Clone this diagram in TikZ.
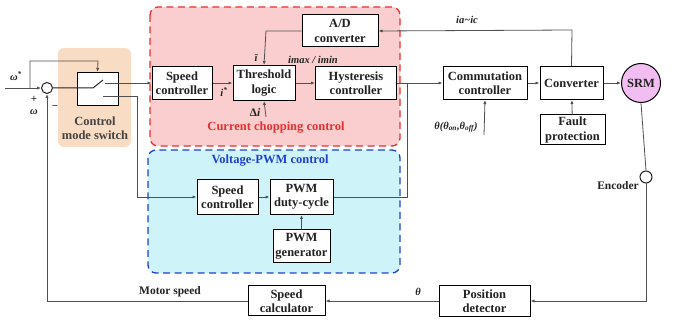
\documentclass[tikz,border=0pt]{standalone}
\usepackage{fontspec}
\setmainfont{Liberation Serif}
\usetikzlibrary{arrows.meta}
\definecolor{lnc}{RGB}{80,80,80}
\definecolor{orfill}{RGB}{249,220,196}
\definecolor{rdfill}{RGB}{250,206,206}
\definecolor{rddash}{RGB}{232,48,48}
\definecolor{blfill}{RGB}{206,244,250}
\definecolor{bldash}{RGB}{32,64,208}
\definecolor{srmfill}{RGB}{242,190,242}
\definecolor{txt}{RGB}{34,34,34}
\begin{document}
\begin{tikzpicture}[x=1pt,y=-1pt,
  blk/.style={draw=black,line width=1pt,fill=white,align=center,inner sep=1pt,
    font=\fontsize{12.5}{14.5}\selectfont\bfseries,text=txt},
  conn/.style={draw=lnc,line width=0.8pt},
  arr/.style={conn,-{Latex[length=4pt,width=3.2pt]}},
  lab/.style={font=\fontsize{10.5}{12}\selectfont\bfseries\itshape,text=txt,inner sep=1pt},
  region/.style={rounded corners=8pt,line width=1.3pt,dash pattern=on 7pt off 4.5pt}]
\useasboundingbox (0,0) rectangle (680,320);
% regions
\fill[orfill,rounded corners=6pt] (58,48) rectangle (131,147);
\draw[region,draw=rddash,fill=rdfill] (150,7) rectangle (400,146);
\draw[region,draw=bldash,fill=blfill] (148,150) rectangle (400,273);
\node[font=\fontsize{12.5}{14}\selectfont\bfseries,text=rddash] (cct) at (276,128) {Current chopping control};
\node[font=\fontsize{12.5}{14}\selectfont\bfseries,text=bldash] (vpt) at (270,161) {Voltage-PWM control};
\node[font=\fontsize{12.5}{14.5}\selectfont\bfseries,text=txt!85,align=center] (cms) at (95,128) {Control\\mode switch};
% blocks
\node[blk,minimum width=41pt,minimum height=33pt] (sw) at (97.5,89) {};
\node[blk,minimum width=60pt,minimum height=33pt] (sc1) at (182,83) {Speed\\controller};
\node[blk,minimum width=62pt,minimum height=35pt] (thr) at (264,83) {Threshold\\logic};
\node[blk,minimum width=81pt,minimum height=33pt] (hys) at (356,83) {Hysteresis\\controller};
\node[blk,minimum width=76pt,minimum height=32pt] (ad) at (340,31) {A/D\\converter};
\node[blk,minimum width=84pt,minimum height=33pt] (com) at (485,83) {Commutation\\controller};
\node[blk,minimum width=63pt,minimum height=33pt] (conv) at (571.5,83) {Converter};
\node[blk,minimum width=65pt,minimum height=30pt] (fault) at (572.5,130) {Fault\\protection};
\node[blk,circle,fill=srmfill,minimum size=39pt] (srm) at (641,83) {SRM};
\node[blk,minimum width=61pt,minimum height=35pt] (sc2) at (227.5,197) {Speed\\controller};
\node[blk,minimum width=63pt,minimum height=35pt] (pwmd) at (301.5,197) {PWM\\duty-cycle};
\node[blk,minimum width=57pt,minimum height=33pt] (pwmg) at (301.5,246.5) {PWM\\generator};
\node[blk,minimum width=91pt,minimum height=31pt] (pos) at (484.5,301) {Position\\detector};
\node[blk,minimum width=77pt,minimum height=30pt] (calc) at (286.5,301) {Speed\\calculator};
\node[circle,draw=txt,line width=1pt,minimum size=11pt,inner sep=0pt,fill=white] (sum) at (47,88) {};
\node[circle,draw=txt,line width=1pt,minimum size=12pt,inner sep=0pt,fill=white] (enc) at (646,177) {};
% coordinates
\coordinate (win) at (5,88);
\coordinate (wbr) at (30,88);
\coordinate (swtop) at (98,61);
\coordinate (bl0) at (93,88);
\coordinate (bl1) at (103,80);
\coordinate (ct1) at (105,83);
\coordinate (ct2) at (103,96);
\coordinate (ct2b) at (137,96);
\coordinate (jn) at (407,83);
\coordinate (adc) at (266,31);
\coordinate (dlt) at (266,117);
\coordinate (thon) at (484,135);
\coordinate (cvtop) at (572,30);
\coordinate (brc) at (646,301);
\coordinate (blc) at (47,301);
% connectors
\draw[arr] (win) -- (sum.west);
\draw[arr] (wbr) |- (swtop) -- (sw.north);
\draw[conn,draw=txt,line width=1pt] (sum.east) -- (bl0) -- (bl1);
\draw[arr] (ct1) -- (sc1.west);
\draw[arr] (ct2) -- (ct2b) |- (sc2.west);
\draw[arr] (sc1) -- (thr);
\draw[arr] (thr) -- (hys);
\draw[arr] (ad.west) -- (adc) -- (thr.north);
\draw[arr] (dlt) -- (thr.south);
\draw[arr] (hys.east) -- (com.west);
\draw[conn] (pwmd.east) -| (jn);
\draw[arr] (com) -- (conv);
\draw[arr] (conv) -- (srm);
\draw[arr] (thon) -- (com.south);
\draw[arr] (fault) -- (conv);
\draw[arr] (conv.north) -- (cvtop) -- (ad.east);
\draw[conn] (srm.south) -- (enc.north);
\draw[arr] (enc.south) -- (brc) -- (pos.east);
\draw[arr] (pos) -- (calc);
\draw[arr] (calc.west) -- (blc) -- (sum.south);
\draw[arr] (sc2) -- (pwmd);
\draw[arr] (pwmg) -- (pwmd);
% labels
\node[lab] (lws) at (16,76) {ω\textsuperscript{*}};
\node[lab,font=\fontsize{11}{12}\selectfont\bfseries] (lp) at (34,99) {+};
\node[lab] (lw) at (34,112) {ω};
\node[lab,font=\fontsize{11}{12}\selectfont\bfseries] (lm) at (55,107) {−};
\node[lab] (lis) at (224,92) {i\textsuperscript{*}};
\node[lab] (libar) at (256,58) {ī};
\node[lab] (limax) at (313,60) {imax / imin};
\node[lab,font=\fontsize{11.5}{12}\selectfont\bfseries] (ldi) at (255,113) {Δ\textit{i}};
\node[lab] (liac) at (467,20) {ia\textasciitilde ic};
\node[lab] (lth) at (456,127) {θ(θ\textsubscript{on},θ\textsubscript{off})};
\node[lab,font=\fontsize{11.5}{12}\selectfont\bfseries,anchor=east] (lenc) at (640,186) {Encoder};
\node[lab] (lt) at (418,292) {θ};
\node[lab,font=\fontsize{11.5}{12}\selectfont\bfseries] (lms) at (170,292) {Motor speed};
\end{tikzpicture}
\end{document}
